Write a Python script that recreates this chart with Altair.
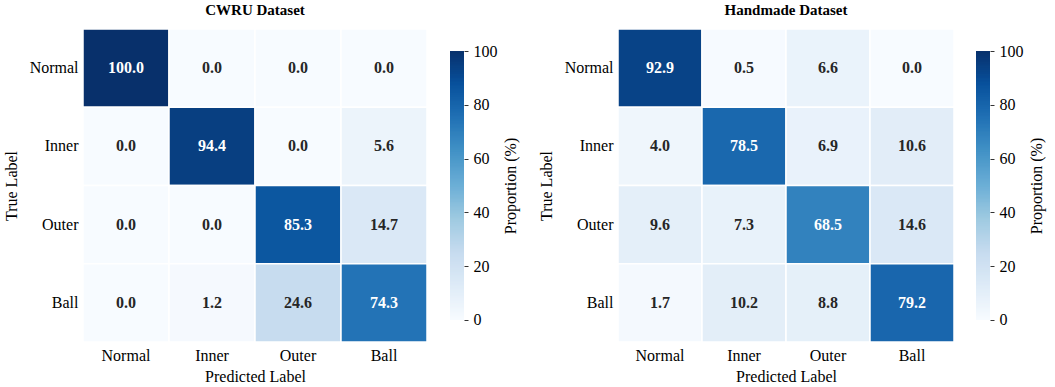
import altair as alt
import numpy as np
import pandas as pd

classes = ["Normal", "Inner", "Outer", "Ball"]

# Row-normalised confusion matrices (%), rows = true class, cols = predicted class
cwru = [
    [100.0, 0.0, 0.0, 0.0],
    [0.0, 94.4, 0.0, 5.6],
    [0.0, 0.0, 85.3, 14.7],
    [0.0, 1.2, 24.6, 74.3],
]
handmade = [
    [92.9, 0.5, 6.6, 0.0],
    [4.0, 78.5, 6.9, 10.6],
    [9.6, 7.3, 68.5, 14.6],
    [1.7, 10.2, 8.8, 79.2],
]

cbar_ticks = [0, 20, 40, 60, 80, 100]

# matplotlib "Blues" stops
blues = ["#f7fbff", "#deebf7", "#c6dbef", "#9ecae1", "#6baed6",
         "#4292c6", "#2171b5", "#08519c", "#08306b"]
cscale = alt.Scale(domain=list(np.linspace(0, 100, 9)), range=blues, interpolate="rgb")

FONT = "Liberation Serif"


def to_long(mat):
    rows = []
    for i, t in enumerate(classes):
        for j, p in enumerate(classes):
            rows.append({"true": t, "pred": p, "value": mat[i][j]})
    return pd.DataFrame(rows)


def heatmap(mat, title, w, h):
    base = alt.Chart(to_long(mat)).encode(
        x=alt.X("pred:N", sort=classes, title="Predicted Label",
                scale=alt.Scale(paddingInner=0, paddingOuter=0),
                axis=alt.Axis(labelAngle=0, ticks=False, domain=False,
                              labelFont=FONT, titleFont=FONT,
                              labelPadding=5, titlePadding=5)),
        y=alt.Y("true:N", sort=classes, title="True Label",
                scale=alt.Scale(paddingInner=0, paddingOuter=0),
                axis=alt.Axis(ticks=False, domain=False,
                              labelFont=FONT, titleFont=FONT,
                              labelPadding=5, titlePadding=10)),
    )
    rect = base.mark_rect(stroke="white", strokeWidth=1.5).encode(
        color=alt.Color("value:Q", scale=cscale, legend=None)
    )
    text = base.mark_text(fontWeight="bold", fontSize=16, font=FONT).encode(
        text=alt.Text("value:Q", format=".1f"),
        color=alt.condition(alt.datum.value >= 50, alt.value("white"), alt.value("#262626")),
    )
    return (rect + text).properties(
        width=w, height=h,
        title=alt.TitleParams(title, fontSize=15, fontWeight="bold", font=FONT,
                              offset=10, anchor="middle"),
    )


def colorbar(h):
    steps = np.arange(0, 100, 0.5)
    df = pd.DataFrame({"v": steps, "v2": np.minimum(steps + 1.0, 100.0)})
    return alt.Chart(df).mark_rect().encode(
        y=alt.Y("v:Q", scale=alt.Scale(domain=[-8.18, 108.18], nice=False, zero=False),
                axis=alt.Axis(orient="right", values=cbar_ticks, domain=False,
                              tickSize=4, tickColor="#333", labelPadding=5,
                              labelFont=FONT, titleFont=FONT,
                              title="Proportion (%)", titleAngle=270,
                              titleBaseline="top", titlePadding=5, grid=False)),
        y2="v2:Q",
        x=alt.value(0),
        x2=alt.value(14),
        color=alt.Color("v:Q", scale=cscale, legend=None),
    ).properties(width=14, height=h)


left = alt.hconcat(heatmap(cwru, "CWRU Dataset", 344, 313), colorbar(313), spacing=22)
right = alt.hconcat(heatmap(handmade, "Handmade Dataset", 336, 313), colorbar(313), spacing=21)

chart = alt.hconcat(left, right, spacing=20).properties(
    padding={"left": 3, "top": 3, "right": 4, "bottom": 2}
).configure(
    font=FONT
).configure_axis(
    labelFont=FONT, titleFont=FONT, labelFontSize=16, titleFontSize=16,
    labelColor="black", titleColor="black", titleFontWeight="normal",
).configure_view(stroke=None)

chart.save("out.html", embed_options={"renderer": "svg", "actions": False})
